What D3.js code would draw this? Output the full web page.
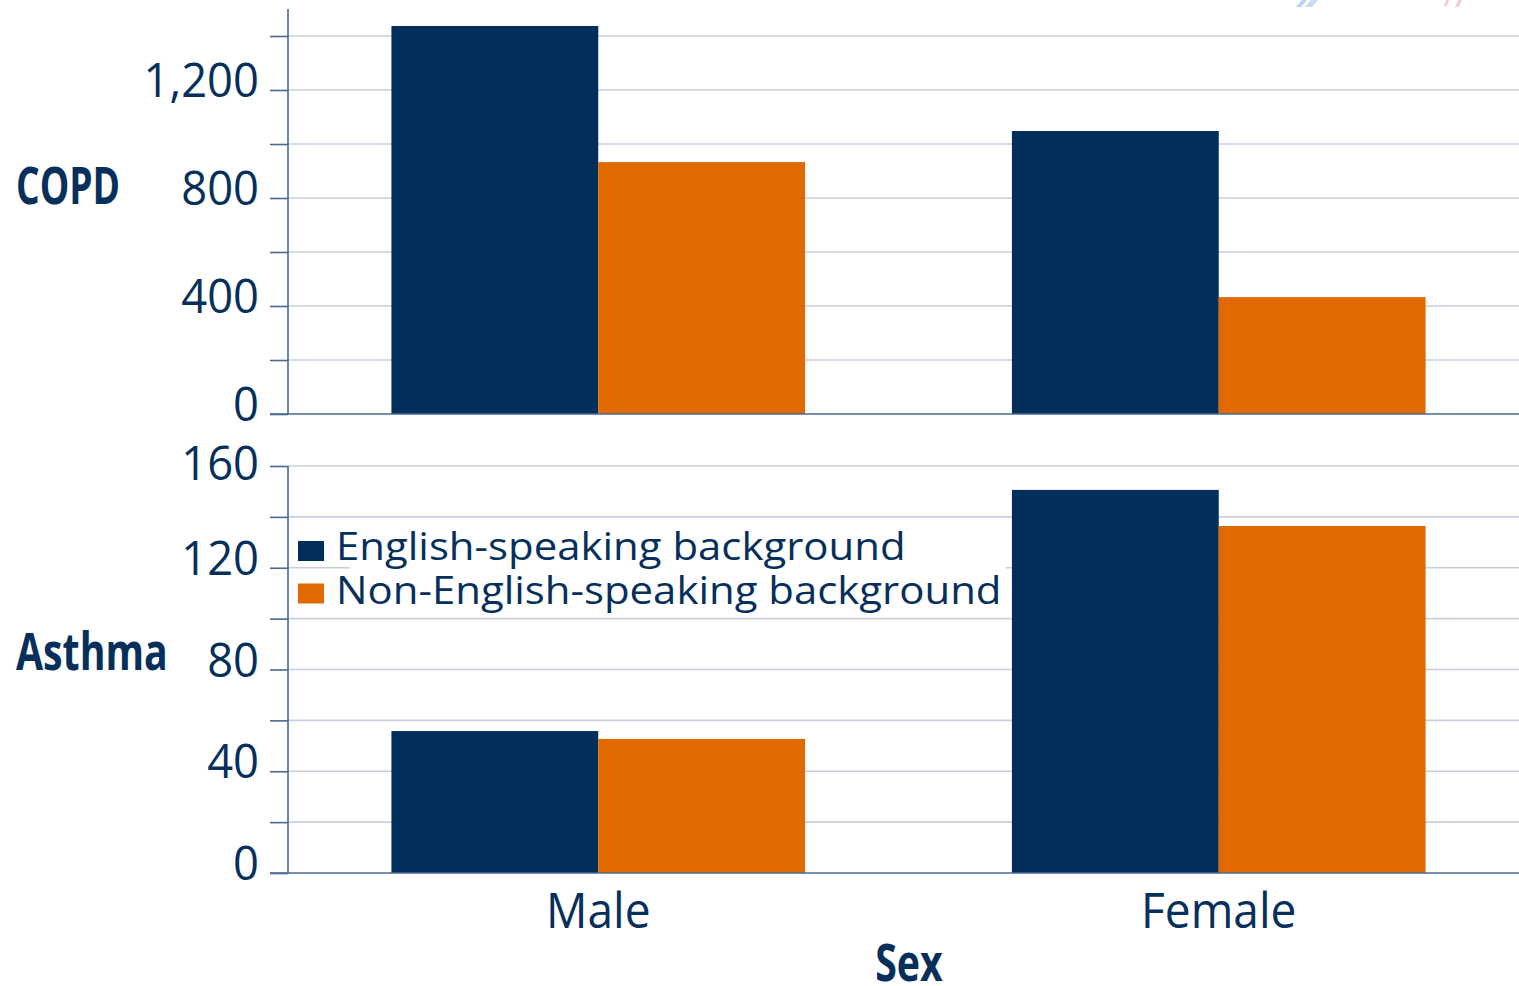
<!DOCTYPE html>
<html><head><meta charset="utf-8">
<script src="https://cdn.jsdelivr.net/npm/d3@7"></script>
<style>
body{margin:0;background:#fff}
svg{display:block}
text{font-family:"Open Sans",sans-serif;fill:#062f5c}
</style>
</head><body>
<svg id="c" width="1519" height="986"></svg>
<script>
// ---- data ----
const categories = ["Male", "Female"];
const seriesNames = ["English-speaking background", "Non-English-speaking background"];
const copdEnglish = [1437, 1048];
const copdNonEnglish = [933, 433];
const asthmaEnglish = [55.8, 150.6];
const asthmaNonEnglish = [52.7, 136.4];
const copdTicks = [0, 200, 400, 600, 800, 1000, 1200, 1400];
const copdLabels = [0, 400, 800, 1200];
const asthmaTicks = [0, 20, 40, 60, 80, 100, 120, 140, 160];
const asthmaLabels = [0, 40, 80, 120, 160];
const panelNames = ["COPD", "Asthma"];
const xTitle = "Sex";

// ---- style ----
const navy = "#022e5c", orange = "#e06a00", grid = "#c9cde1", axisCol = "#4a6890";
const svg = d3.select("#c");

const x0 = d3.scaleBand().domain(categories).range([288, 1529]).padding(0);
const x1 = d3.scaleBand().domain(seriesNames).range([x0.bandwidth() / 6, x0.bandwidth() * 5 / 6]).padding(0);
const color = d3.scaleOrdinal().domain(seriesNames).range([navy, orange]);

function cText(g, x, y, str, size, weight, anchor, f) {
  return g.append("text")
    .attr("transform", `translate(${x},${y}) scale(${f},1)`)
    .attr("text-anchor", anchor)
    .style("font-size", size + "px")
    .style("font-weight", weight)
    .text(str);
}

const panels = [
  { name: panelNames[0], y: d3.scaleLinear().domain([0, 1500]).range([414, 9]), axisTop: 9,
    ticks: copdTicks, labels: copdLabels, fmt: d3.format(","), a: copdEnglish, b: copdNonEnglish, titleY: 204 },
  { name: panelNames[1], y: d3.scaleLinear().domain([0, 160]).range([873, 466]), axisTop: 466,
    ticks: asthmaTicks, labels: asthmaLabels, fmt: d3.format(","), a: asthmaEnglish, b: asthmaNonEnglish, titleY: 670 }
];

panels.forEach(p => {
  const g = svg.append("g");
  const top = p.y.range()[1];
  // gridlines
  g.selectAll("line.grid").data(p.ticks.filter(t => t > 0)).join("line")
    .attr("x1", 288).attr("x2", 1519).attr("y1", d => p.y(d)).attr("y2", d => p.y(d))
    .attr("stroke", grid).attr("stroke-width", 1.6);
  // bars
  const rows = categories.map((c, i) => ({ cat: c, vals: [p.a[i], p.b[i]] }));
  g.selectAll("g.grp").data(rows).join("g")
    .attr("transform", d => `translate(${x0(d.cat)},0)`)
    .selectAll("rect").data(d => d.vals.map((v, j) => ({ s: seriesNames[j], v })))
    .join("rect")
    .attr("x", d => x1(d.s)).attr("width", x1.bandwidth())
    .attr("y", d => p.y(d.v)).attr("height", d => p.y(0) - p.y(d.v))
    .attr("fill", d => color(d.s));
  // axis (d3 axis for ticks)
  const ax = g.append("g").attr("transform", "translate(288,0)")
    .call(d3.axisLeft(p.y).tickValues(p.ticks).tickSize(18).tickFormat(""));
  ax.select(".domain").remove();
  ax.selectAll(".tick line").attr("stroke", axisCol).attr("stroke-width", 1.6);
  g.append("line").attr("x1", 288).attr("x2", 288).attr("y1", p.axisTop).attr("y2", p.y(0))
    .attr("stroke", axisCol).attr("stroke-width", 1.6);
  g.append("line").attr("x1", 270).attr("x2", 1519).attr("y1", p.y(0)).attr("y2", p.y(0))
    .attr("stroke", axisCol).attr("stroke-width", 1.6);
  // tick labels
  p.labels.forEach(t => {
    const cy = Math.max(p.y(t) - 10, top - 3);
    cText(g, 259, cy + 17, p.fmt(t), 47.5, 400, "end", 0.955);
  });
  // panel title
  cText(g, 16, p.titleY, p.name, 52, 700, "start", p.name.length > 4 ? 0.755 : 0.715);
});

// legend
const lg = svg.append("g");
lg.append("rect").attr("x", 350).attr("y", 527).attr("width", 656).attr("height", 85).attr("fill", "#fff");
seriesNames.forEach((s, i) => {
  lg.append("rect").attr("x", 298).attr("y", 541 + i * 42.5).attr("width", 26).attr("height", 20).attr("fill", color(s));
  cText(lg, 336, 560 + i * 44, s, 39, 400, "start", 1.075);
});

// x labels
categories.forEach(c => cText(svg, x0(c) + x0.bandwidth() / 2, 928, c, 49, 400, "middle", 0.94));
cText(svg, 909, 981, xTitle, 52, 700, "middle", 0.755);

// faint artifacts at top right
const art = svg.append("g").attr("opacity", 0.55);
art.append("path").attr("d", "M1296,7 L1302,0 L1307,0 L1301,7Z").attr("fill", "#7fb3e0");
art.append("path").attr("d", "M1305,7 L1311,0 L1318,0 L1312,7Z").attr("fill", "#9cc6ea");
art.append("path").attr("d", "M1444,6 L1446,0 L1449,0 L1447,6Z").attr("fill", "#e8a0b0");
art.append("path").attr("d", "M1455,7 L1458,0 L1462,0 L1459,7Z").attr("fill", "#e8a8b8");
</script>
</body></html>
